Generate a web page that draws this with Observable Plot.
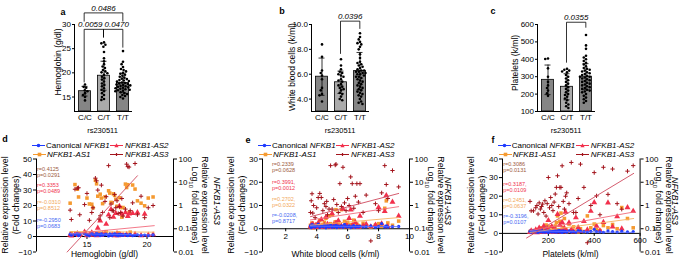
<!DOCTYPE html>
<html><head><meta charset="utf-8">
<script src="https://cdn.jsdelivr.net/npm/d3@7"></script>
<script src="https://cdn.jsdelivr.net/npm/@observablehq/plot@0.6"></script>
<style>
body{margin:0;background:#fff;}
#root{position:relative;width:685px;height:259px;overflow:hidden;font-family:"Liberation Sans",Arial,sans-serif;color:#000;background:#fff;}
.lab{position:absolute;white-space:nowrap;text-align:center;}
.lft{position:absolute;white-space:nowrap;}
</style></head><body><div id="root"></div><script>
// ---------- data: top panels ----------
const genotypes = ["C/C","C/T","T/T"];
const hgbCC = [17.6,17.1,16.9,16.4,16.2,15.8,15.4,15.0,14.3];
const hgbCT = [26.3,26.1,25.8,25.4,24.3,23.0,22.4,21.8,21.3,21.0,20.6,20.3,20.1,19.9,19.6,19.2,18.9,18.6,18.2,17.8,17.5,17.2,16.8,16.5,16.2,15.8,15.4,15.0,14.6,14.4];
const hgbTT = [24.5,22.3,21.8,21.2,20.8,20.6,20.3,20.0,19.8,19.6,19.4,19.2,19.0,18.8,18.7,18.5,18.4,18.3,18.2,18.0,17.9,17.8,17.7,17.6,17.5,17.4,17.3,17.2,17.1,17.0,16.9,16.8,16.7,16.6,16.5,16.4,16.3,16.2,16.0,15.8,15.6,15.4,15.2,15.0,14.7];
const hgbMean = [16.2,19.4,17.9], hgbSD = [1.0,3.0,2.0];
const wbcCC = [8.4,7.4,6.3,6.1,5.9,5.6,4.9,4.7,4.4,4.3,3.8];
const wbcCT = [7.2,6.7,6.4,6.2,6.1,6.0,5.9,5.8,5.6,5.5,5.4,5.2,5.1,5.0,4.9,4.8,4.7,4.5,4.4,4.2,4.0,3.9];
const wbcTT = [9.3,9.0,8.8,8.6,8.5,8.4,8.2,8.0,7.6,7.3,7.0,6.9,6.8,6.7,6.6,6.5,6.4,6.3,6.3,6.2,6.2,6.1,6.1,6.0,6.0,5.9,5.8,5.8,5.7,5.6,5.5,5.4,5.3,5.2,5.1,5.0,4.9,4.8,4.7,4.6,4.5,4.4,4.3,4.2,4.0,3.8,3.7,3.6];
const wbcMean = [5.8,5.35,6.25], wbcSD = [1.5,0.9,1.5];
const pltCC = [405,402,348,300,270,250,235,220,205,190];
const pltCT = [345,340,335,330,325,310,300,290,280,270,260,250,240,230,220,210,200,195,185,175,165,150,140,130,120];
const pltTT = [540,480,460,420,410,400,390,380,370,360,350,345,340,335,330,325,320,315,310,305,300,300,295,290,285,280,275,270,265,260,255,250,245,240,235,230,225,220,215,210,200,190,180,170,160,150];
const pltMean = [282,242,300], pltSD = [85,75,75];
const brA = [
  {from:"C/C",to:"C/T",y:29.0,legFrom:18.1,legTo:27.4,p:"0.0059",anchor:"end"},
  {from:"C/T",to:"T/T",y:29.0,legFrom:27.4,legTo:25.3,p:"0.0470",anchor:"start"},
  {from:"C/C",to:"T/T",y:32.4,legFrom:30.7,legTo:30.7,p:"0.0486",anchor:"middle"}];
const brB = [{from:"C/T",to:"T/T",y:10.27,legFrom:7.67,legTo:9.68,p:"0.0396",anchor:"middle"}];
const brC = [{from:"C/T",to:"T/T",y:613,legFrom:383,legTo:584,p:"0.0355",anchor:"middle"}];

// ---------- data: bottom panels ----------
const hgbD = [13.6,13.7,14.0,14.2,14.3,14.4,14.8,15.0,15.2,15.4,15.5,15.7,15.8,15.9,16.0,16.1,16.2,16.3,16.5,16.6,16.8,16.9,17.0,17.1,17.2,17.3,17.4,17.5,17.6,17.7,17.8,17.9,18.0,18.2,18.3,18.4,18.5,18.6,18.8,19.0,19.2,19.5,19.8,20.1,20.5];
const canD = [1.5,0.8,1.2,2.0,0.6,1.1,1.6,0.9,0.5,1.8,1.3,0.7,2.2,1.0,1.4,0.6,1.9,0.8,1.2,1.5,0.4,1.7,1.0,0.6,1.3,2.1,0.9,1.1,0.5,1.6,0.8,1.2,0.7,1.4,0.9,0.6,1.0,1.3,0.5,0.8,1.1,0.7,0.9,0.6,1.0];
const as1D = [21.5,2.2,33.5,30.5,25.5,1.8,2.5,24.8,21.0,20.8,18.5,36.3,34.0,26.0,2.0,27.3,24.8,21.2,25.6,3.0,29.5,28.0,22.0,21.8,27.5,26.5,24.0,19.5,2.4,25.0,18.7,12.5,18.7,33.8,31.6,33.4,15.5,2.8,33.2,30.6,23.0,21.5,19.8,24.8,25.5];
const as2D = [1.0,0.5,1.5,2.0,0.8,1.2,3.0,0.6,1.1,2.5,0.9,1.4,0.7,5.5,1.0,10.1,0.8,1.6,2.2,8.0,14.0,0.9,17.5,1.2,12.5,0.6,15.0,2.0,0.7,19.5,1.1,14.5,0.8,15.5,1.3,13.0,14.6,0.9,15.0,1.5,15.5,0.7,14.5,1.0,1.2];
const as3D = [0.63,0.25,5.0,5.6,5.8,0.4,1.1,3.3,0.23,0.5,0.8,15,11.5,4.6,0.26,0.36,7.5,0.5,1.5,2.4,52,0.3,1.15,0.6,0.59,3.0,0.8,1.6,0.45,0.9,0.5,2.0,0.35,0.7,60,47,45,0.6,1.3,64,0.4,2.5,0.3,0.8,1.0];
const dFitX = [13.6,20.6], dFitCan = [1.8,1.0], dFitAS1 = [3.2,2.8], dFitAS2 = [1.8,7.0];
const dFitX3 = [13.35,19.2], dFitAS3 = [0.01,19];

const wbcE = [3.6,3.65,3.7,3.75,3.8,3.9,4.0,4.1,4.2,4.3,4.4,4.5,4.6,4.65,4.7,4.8,4.9,5.0,5.1,5.2,5.25,5.3,5.4,5.5,5.6,5.7,5.8,5.9,6.0,6.1,6.2,6.3,6.4,6.5,6.6,6.7,6.8,7.0,7.2,7.5,7.8,8.0,8.2,8.4,8.5,8.6,8.9,9.3];
const canE = [1.2,0.5,1.8,0.9,1.5,0.7,1.1,2.0,0.6,1.3,0.9,1.6,0.4,1.0,1.4,0.8,1.7,0.6,1.2,0.9,1.5,0.5,1.1,0.8,1.3,0.6,1.9,1.0,0.7,1.2,0.5,0.9,1.4,0.6,1.0,0.8,1.1,0.7,0.9,1.2,0.6,1.0,2.2,0.8,1.3,0.7,0.9,1.0];
const as1E = [1.5,0.8,2.5,0.5,1.2,0.6,2.0,1.0,3.5,0.7,1.8,2.8,4.5,1.2,0.6,5.5,2.2,6.0,1.0,3.0,8.2,0.8,2.5,1.5,8.2,0.9,3.2,1.3,2.8,0.6,1.8,1.1,3.7,0.7,2.0,1.4,0.9,2.4,1.2,0.8,1.6,2.2,1.0,8.8,12.0,2.5,1.5,3.3];
const as2E = [0.8,1.6,0.5,2.0,0.9,1.3,0.6,2.5,1.0,4.0,0.7,1.5,5.0,0.8,2.0,1.2,0.6,6.5,1.8,0.9,2.5,1.4,3.5,0.7,1.2,8.5,0.9,2.0,1.0,4.5,8.2,1.5,0.8,2.8,1.1,0.6,5.5,1.3,2.0,0.9,1.7,9.2,2.2,7.5,14.3,1.0,11.5,5.5];
const as3E = [0.5,1.6,3.2,0.47,1.0,0.3,0.8,2.2,3.3,2.2,0.6,1.2,0.9,1.5,0.4,0.7,52,0.7,1.8,55,60,1.1,0.5,8.7,0.9,44,1.3,0.6,2.0,1.0,17,8.7,0.76,2.5,8.7,1.4,8.7,0.5,2.8,0.03,1.2,0.6,3.5,52,8,2.0,32,6.3];
const eFitX = [3.6,9.3], eFitCan = [1.1,0.9], eFitAS1 = [1.5,4.8], eFitAS2 = [3.8,9.5];
const eFitX3 = [3.6,9.3], eFitAS3 = [0.33,3.3];

const pltF = [120,125,135,145,150,155,160,165,170,175,180,185,190,195,200,205,210,215,220,225,230,235,240,245,250,255,260,265,270,275,280,290,300,310,320,330,340,355,370,385,400,410,425,440,460,480,500,520,545,570];
const canF = [1.2,0.6,1.5,0.8,1.0,0.5,1.3,0.9,1.8,0.7,1.1,0.6,1.4,0.9,0.5,1.6,1.0,0.7,1.2,0.8,1.5,0.6,1.0,1.9,0.8,1.2,0.5,1.4,0.9,1.1,0.7,1.3,0.8,1.0,0.6,1.5,1.2,0.9,0.7,1.1,2.2,1.0,0.8,0.6,1.3,0.9,0.7,1.2,0.8,1.0];
const as1F = [1.0,0.5,1.5,0.8,2.0,0.6,1.2,0.9,3.0,1.3,0.7,2.2,4.5,1.0,0.8,3.5,1.5,0.6,2.8,1.1,4.0,5.8,9.4,2.0,6.5,10.9,1.4,3.2,8.0,2.4,0.9,5.0,1.6,3.5,1.2,0.8,2.5,1.0,9.4,3.0,5.0,2.0,1.5,4.2,3.0,4.8,2.5,13.9,8.0,3.0];
const as2F = [0.6,1.4,0.8,2.0,0.5,1.2,3.0,0.7,1.6,0.9,4.0,1.1,0.6,2.5,7.0,1.0,0.8,3.8,1.5,0.7,2.2,1.2,10.3,0.9,4.5,1.6,6.0,0.8,2.8,11.5,1.3,5.7,2.0,0.9,8.5,3.2,1.1,6.5,2.0,12.0,16.6,4.0,1.5,6.0,16.5,3.5,9.0,2.5,13.9,12.0];
const as3F = [1.5,0.59,0.59,0.8,1.0,0.43,1.3,0.7,0.9,1.15,0.5,1.6,0.35,1.2,16,0.8,2.2,1.0,0.6,1.4,3.1,6.0,19,0.9,6.0,6.0,51,1.5,0.7,2.5,3.5,1.2,71,0.5,0.5,2.0,60,6.0,0.025,1.0,26,2.6,0.4,44,3.0,37,1.2,0.69,30,52];
const fFitX = [120,572], fFitCan = [1.3,0.5], fFitAS1 = [0.5,8.0], fFitAS2 = [1.5,11.5];
const fFitX3 = [105,572], fFitAS3 = [0.04,24];

const statsD = [["r=0.4125","p=0.0291"],["r=0.3353","p=0.0489"],["r=-0.0310","p=0.8512"],["r=-0.2950","p=0.0683"]];
const statsE = [["r=0.2339","p=0.0628"],["r=0.3991,","p=0.0012"],["r=0.2702,","p=0.0322"],["r=-0.0208,","p=0.8717"]];
const statsF = [["r=0.3086","p=0.0131"],["r=0.3187,","p=0.0109"],["r=0.2451,","p=0.0637"],["r=-0.3196,","p=0.0107"]];

// ---------- styles ----------
const barFill = ["#858585","#ababab","#858585"];
const cCan="#1f3bff", cAS1="#f59a30", cAS2="#f2304c", cAS3="#a3141c";
const lCan="#5a6cff", lAS1="#f7b260", lAS2="#f26a7c", lAS3="#cf4a5e";
const sCol = ["#9c5a3c","#f0364f","#f2a85a","#4668f2"];
const STYLE = "font-family:'Liberation Sans',Arial,sans-serif;font-size:8px;background:transparent;overflow:visible;";
const root = document.getElementById("root");

function place(svg, x, y){ svg.style.position="absolute"; svg.style.left=x+"px"; svg.style.top=y+"px"; root.appendChild(svg); }
function label(html, cx, cy, o={}){
  const d=document.createElement("div"); d.className="lab"; d.innerHTML=html;
  d.style.left=cx+"px"; d.style.top=cy+"px"; d.style.fontSize=(o.size||8)+"px";
  d.style.lineHeight=(o.lh||1.15); if(o.bold) d.style.fontWeight="bold"; if(o.italic) d.style.fontStyle="italic";
  if(o.color) d.style.color=o.color;
  d.style.transform=`translate(-50%,-50%) rotate(${o.rot||0}deg)`; root.appendChild(d);
}
function lefttext(html, x, cy, o={}){
  const d=document.createElement("div"); d.className="lft"; d.innerHTML=html;
  d.style.left=x+"px"; d.style.top=cy+"px"; d.style.fontSize=(o.size||8)+"px"; d.style.lineHeight="1";
  if(o.color) d.style.color=o.color; d.style.transform="translate(0,-50%)"; root.appendChild(d);
}

// ---------- top panels ----------
function topPanel(A, vals, means, sds, dom, ticks, brk){
  const dots = genotypes.flatMap((g,i)=>vals[i].map(v=>({g,v})));
  const bars = genotypes.map((g,i)=>({g, m:means[i], lo:means[i]-sds[i], hi:means[i]+sds[i]}));
  const common = {width:140,height:140,marginLeft:73,marginRight:9,marginTop:24,marginBottom:29,style:STYLE};
  const main = Plot.plot({...common,
    fx:{domain:genotypes,padding:0,label:null,axis:"bottom",tickSize:0,tickPadding:3},
    y:{domain:dom,ticks,tickSize:3,tickPadding:1.5,label:null},
    color:{domain:genotypes,range:barFill},
    marks:[
      Plot.barY(bars,{fx:"g",y1:dom[0],y2:"m",fill:"g",stroke:"#000",strokeWidth:0.8,insetLeft:3.5,insetRight:3.5}),
      Plot.dot(dots,Plot.dodgeX({anchor:"middle",padding:0.2},{fx:"g",y:"v",r:1.3,fill:"#000"})),
      Plot.ruleX(bars,{fx:"g",x:null,y1:"lo",y2:"hi",strokeWidth:0.8}),
      Plot.tickY(bars,{fx:"g",y:"hi",insetLeft:6.5,insetRight:6.5,strokeWidth:0.8}),
      Plot.tickY(bars,{fx:"g",y:"lo",insetLeft:6.5,insetRight:6.5,strokeWidth:0.8})
    ]});
  place(main, A-73, 0);
  const ix = g => genotypes.indexOf(g)+0.5;
  const pts = brk.flatMap((b,k)=>[
    {id:k,x:ix(b.from),y:b.legFrom},{id:k,x:ix(b.from),y:b.y},{id:k,x:ix(b.to),y:b.y},{id:k,x:ix(b.to),y:b.legTo}]);
  const txt = brk.map(b=>({p:b.p,y:b.y,anchor:b.anchor,
    x: b.anchor==="middle" ? (ix(b.from)+ix(b.to))/2 : b.anchor==="end" ? ix(b.to) : ix(b.from)}));
  const tOpt = {x:"x",y:"y",text:"p",fontStyle:"italic",fontSize:8,lineAnchor:"bottom",dy:-2};
  const over = Plot.plot({...common,
    x:{domain:[0,3],axis:null}, y:{domain:dom,axis:null},
    marks:[
      Plot.ruleX([0],{strokeWidth:1}),
      Plot.ruleY([dom[0]],{strokeWidth:1}),
      Plot.line(pts,{x:"x",y:"y",z:"id",strokeWidth:0.8}),
      Plot.text(txt.filter(d=>d.anchor==="middle"),{...tOpt,textAnchor:"middle"}),
      Plot.text(txt.filter(d=>d.anchor==="end"),{...tOpt,textAnchor:"end",dx:-1}),
      Plot.text(txt.filter(d=>d.anchor==="start"),{...tOpt,textAnchor:"start",dx:1})
    ]});
  place(over, A-73, 0);
  label("rs230511", A+29, 131, {size:7.5});
}
topPanel(73.5,[hgbCC,hgbCT,hgbTT],hgbMean,hgbSD,[12,30],[15,20,25,30],brA);
topPanel(311,[wbcCC,wbcCT,wbcTT],wbcMean,wbcSD,[3,10],[4,6,8,10],brB);
topPanel(537,[pltCC,pltCT,pltTT],pltMean,pltSD,[100,600],[100,200,300,400,500,600],brC);
label("Hemoglobin (g/dl)", 59, 62, {size:8.5, rot:-90});
label("White blood cells (k/ml)", 293, 67, {size:8.5, rot:-90});
label("Platelets (k/ml)", 516, 63, {size:8.5, rot:-90});
label("a", 63, 12, {size:9, bold:true});
label("b", 282, 11, {size:9, bold:true});
label("c", 493, 11, {size:9, bold:true});

// ---------- bottom panels ----------
function seriesPts(xs, ys){ return xs.map((x,i)=>({x, y:ys[i]})); }
function bottomPanel(o){
  const {L,R,xDom,xTicks,yDom,yTicks,xs,can,as1,as2,as3,fx,fCan,fAS1,fAS2,fx3,fAS3} = o;
  const common = {width:R-L+96,height:129,marginLeft:36,marginRight:60,marginTop:28.5,marginBottom:7.5,style:STYLE};
  const main = Plot.plot({...common,
    x:{domain:xDom,axis:null},
    y:{domain:yDom,ticks:yTicks,tickSize:3,tickPadding:1.5,label:null},
    marks:[
      Plot.ruleX([xDom[0]],{strokeWidth:1}),
      Plot.ruleY([0],{strokeWidth:1}),
      Plot.ruleX(xTicks,{y1:0,y2:0,insetBottom:-3,strokeWidth:1}),
      Plot.text(xTicks,{x:d=>d,y:0,dy:7.5,text:d=>String(d),fontSize:8}),
      Plot.dot(seriesPts(xs,as1),{x:"x",y:"y",symbol:"square",r:2,fill:cAS1}),
      Plot.dot(seriesPts(xs,as2),{x:"x",y:"y",symbol:"triangle",r:2.2,fill:cAS2}),
      Plot.dot(seriesPts(xs,can),{x:"x",y:"y",symbol:"circle",r:1.6,fill:cCan}),
      Plot.line(seriesPts(fx,fAS1),{x:"x",y:"y",stroke:lAS1,strokeWidth:0.9}),
      Plot.line(seriesPts(fx,fAS2),{x:"x",y:"y",stroke:lAS2,strokeWidth:0.9}),
      Plot.line(seriesPts(fx,fCan),{x:"x",y:"y",stroke:lCan,strokeWidth:0.9})
    ]});
  place(main, L-36, 130);
  const over = Plot.plot({...common,
    x:{domain:xDom,axis:null},
    y:{type:"log",domain:[0.01,100],axis:"right",ticks:[0.01,0.1,1,10,100],tickFormat:d=>String(d),tickSize:3,tickPadding:2,label:null},
    marks:[
      Plot.ruleX([xDom[1]],{strokeWidth:1}),
      Plot.dot(seriesPts(xs,as3),{x:"x",y:"y",symbol:"plus",r:1.5,stroke:cAS3,strokeWidth:1}),
      Plot.line(seriesPts(fx3,fAS3),{x:"x",y:"y",stroke:lAS3,strokeWidth:0.9})
    ]});
  place(over, L-36, 130);
}
bottomPanel({L:36,R:173,xDom:[10.8,22.2],xTicks:[15,20],yDom:[-10,50],yTicks:[-10,0,10,20,30,40,50],
  xs:hgbD,can:canD,as1:as1D,as2:as2D,as3:as3D,fx:dFitX,fCan:dFitCan,fAS1:dFitAS1,fAS2:dFitAS2,fx3:dFitX3,fAS3:dFitAS3});
bottomPanel({L:262,R:409,xDom:[0.5,10],xTicks:[2,4,6,8,10],yDom:[-10,30],yTicks:[-10,0,10,20,30],
  xs:wbcE,can:canE,as1:as1E,as2:as2E,as3:as3E,fx:eFitX,fCan:eFitCan,fAS1:eFitAS1,fAS2:eFitAS2,fx3:eFitX3,fAS3:eFitAS3});
bottomPanel({L:501.7,R:639.3,xDom:[0,600],xTicks:[200,400,600],yDom:[-10,40],yTicks:[-10,0,10,20,30,40],
  xs:pltF,can:canF,as1:as1F,as2:as2F,as3:as3F,fx:fFitX,fCan:fFitCan,fAS1:fFitAS1,fAS2:fFitAS2,fx3:fFitX3,fAS3:fFitAS3});

// legends, labels, stats
const legSym = {
  can:`<line x1="0" y1="3.5" x2="13" y2="3.5" stroke="${cCan}" stroke-width="1"/><circle cx="6.5" cy="3.5" r="1.8" fill="${cCan}"/>`,
  as1:`<line x1="0" y1="3.5" x2="13" y2="3.5" stroke="${cAS1}" stroke-width="1"/><rect x="4.7" y="1.7" width="3.6" height="3.6" fill="${cAS1}"/>`,
  as2:`<line x1="0" y1="3.5" x2="13" y2="3.5" stroke="${cAS2}" stroke-width="1"/><path d="M6.5,1.2L8.6,5.2H4.4Z" fill="${cAS2}"/>`,
  as3:`<line x1="0" y1="3.5" x2="13" y2="3.5" stroke="${cAS3}" stroke-width="1"/><path d="M5,3.5H8M6.5,2V5" stroke="${cAS3}" stroke-width="1.2"/>`
};
function legendItem(x, cy, key){
  const s=document.createElementNS("http://www.w3.org/2000/svg","svg");
  s.setAttribute("width",13); s.setAttribute("height",7); s.innerHTML=legSym[key];
  s.style.position="absolute"; s.style.left=x+"px"; s.style.top=(cy-3.5)+"px"; root.appendChild(s);
}
function bottomDecor(L, R, xlab, stats, statDx, statY, rightX, nfkX){
  legendItem(L-4,145.7,"can"); lefttext("Canonical <i>NFKB1</i>", L+10, 145.7);
  legendItem(L+74,145.7,"as2"); lefttext("<i>NFKB1-AS2</i>", L+89, 145.7);
  legendItem(L-3,154.5,"as1"); lefttext("<i>NFKB1-AS1</i>", L+11, 154.5);
  legendItem(L+74,154.5,"as3"); lefttext("<i>NFKB1-AS3</i>", L+89, 154.5);
  stats.forEach((s,i)=>{ lefttext(s[0], L+statDx, statY[i][0], {size:5.5,color:sCol[i]}); lefttext(s[1], L+statDx, statY[i][1], {size:5.5,color:sCol[i]}); });
  label(xlab, (L+R)/2, 253.5, {size:8.5, lh:1});
  label("Relative expression level<br>(Fold changes)", L-25, 205, {size:8.8, rot:-90, lh:1.2});
  label("Relative expression level<br>Log<sub style='font-size:70%'>10</sub> fold changes)", rightX, 205, {size:8.8, rot:90, lh:1.1});
  label("<i>NFKB1-AS3</i>", nfkX, 201, {size:8.8, rot:90});
}
bottomDecor(36,173,"Hemoglobin (g/dl)",statsD,1,[[170,176],[186,192],[202.5,208.5],[221,227]],197.5,217);
bottomDecor(262,409,"White blood cells (k/ml)",statsE,10,[[165,170.7],[183.3,189.3],[200,206],[216,221.7]],434,447.7);
bottomDecor(501.7,639.3,"Platelets (k/ml)",statsF,1.5,[[165,170.7],[185,190.7],[200.7,206.7],[216.7,222.7]],662,675);
label("d", 5, 139, {size:9, bold:true});
label("e", 248, 140, {size:9, bold:true});
label("f", 493, 140, {size:9, bold:true});
</script></body></html>
